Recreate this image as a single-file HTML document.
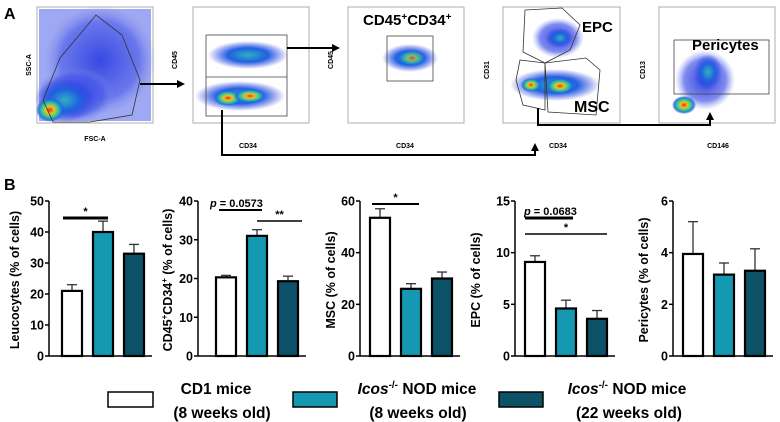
<!DOCTYPE html>
<html><head><meta charset="utf-8">
<style>
html,body{margin:0;padding:0;background:#fff;}
svg{display:block;font-family:"Liberation Sans",Arial,sans-serif;}
</style></head>
<body>
<svg id="fig" width="780" height="422" viewBox="0 0 780 422" xmlns="http://www.w3.org/2000/svg">
<defs>
  <radialGradient id="hot" cx="50%" cy="50%" r="50%">
    <stop offset="0" stop-color="#e0301e"/>
    <stop offset="0.3" stop-color="#f0c020"/>
    <stop offset="0.55" stop-color="#40d080"/>
    <stop offset="0.8" stop-color="#2080e0"/>
    <stop offset="1" stop-color="#3040e0" stop-opacity="0"/>
  </radialGradient>
  <radialGradient id="cool" cx="50%" cy="50%" r="50%">
    <stop offset="0" stop-color="#30b0c0"/>
    <stop offset="0.5" stop-color="#2060e0"/>
    <stop offset="1" stop-color="#3040e0" stop-opacity="0"/>
  </radialGradient>
  <radialGradient id="blue" cx="50%" cy="50%" r="50%">
    <stop offset="0" stop-color="#2a3ee0"/>
    <stop offset="0.7" stop-color="#4a5ae8" stop-opacity="0.7"/>
    <stop offset="1" stop-color="#8090f0" stop-opacity="0"/>
  </radialGradient>
  <marker id="arr" markerWidth="8" markerHeight="8" refX="6" refY="4" orient="auto" markerUnits="userSpaceOnUse">
    <path d="M0,0 L8,4 L0,8 z" fill="#000"/>
  </marker>
</defs>

<text x="4" y="19" font-size="16" font-weight="bold">A</text>

<g>
  <rect x="37" y="7" width="116" height="116" fill="#fff" stroke="#999" stroke-width="0.8"/>
  <rect x="39" y="9" width="112" height="112" fill="#5060e8" opacity="0.55"/>
  <ellipse cx="100" cy="60" rx="56" ry="55" fill="url(#blue)" opacity="0.9"/>
  <ellipse cx="75" cy="95" rx="40" ry="28" fill="url(#blue)"/>
  <ellipse cx="65" cy="100" rx="30" ry="22" fill="url(#cool)"/>
  <ellipse cx="50" cy="110" rx="14" ry="12" fill="url(#hot)"/>
  <polygon points="43,100 60,58 96,15 122,35 140,80 132,115 90,122 53,122" fill="none" stroke="#333" stroke-width="0.8"/>
  <text x="31" y="65" font-size="7" font-weight="bold" transform="rotate(-90 31 65)" text-anchor="middle">SSC-A</text>
  <text x="95" y="141" font-size="7" font-weight="bold" text-anchor="middle">FSC-A</text>
</g>
<line x1="140" y1="84" x2="183" y2="84" stroke="#000" stroke-width="2" marker-end="url(#arr)"/>

<g>
  <rect x="193" y="7" width="116" height="116" fill="#fff" stroke="#999" stroke-width="0.8"/>
  <ellipse cx="248" cy="55" rx="40" ry="14" fill="url(#cool)"/>
  <ellipse cx="240" cy="96" rx="45" ry="15" fill="url(#cool)"/>
  <ellipse cx="228" cy="98" rx="14" ry="8" fill="url(#hot)"/>
  <ellipse cx="250" cy="96" rx="16" ry="7" fill="url(#hot)"/>
  <rect x="206" y="35" width="81" height="81" fill="none" stroke="#444" stroke-width="0.8"/>
  <line x1="206" y1="77" x2="287" y2="77" stroke="#444" stroke-width="0.8"/>
  <text x="177" y="60" font-size="7" font-weight="bold" transform="rotate(-90 177 60)" text-anchor="middle">CD45</text>
  <text x="248" y="148" font-size="7" font-weight="bold" text-anchor="middle">CD34</text>
</g>
<line x1="287" y1="48" x2="338" y2="48" stroke="#000" stroke-width="2" marker-end="url(#arr)"/>

<g>
  <rect x="348" y="7" width="116" height="116" fill="#fff" stroke="#999" stroke-width="0.8"/>
  <ellipse cx="410" cy="58" rx="28" ry="14" fill="url(#cool)"/>
  <ellipse cx="412" cy="58" rx="14" ry="8" fill="url(#hot)" opacity="0.6"/>
  <rect x="387" y="36" width="46" height="45" fill="none" stroke="#444" stroke-width="0.8"/>
  <text x="363" y="25" font-size="15" font-weight="bold">CD45<tspan font-size="10" dy="-5">+</tspan><tspan dy="5">CD34</tspan><tspan font-size="10" dy="-5">+</tspan></text>
  <text x="333" y="60" font-size="7" font-weight="bold" transform="rotate(-90 333 60)" text-anchor="middle">CD45</text>
  <text x="405" y="148" font-size="7" font-weight="bold" text-anchor="middle">CD34</text>
</g>

<g>
  <rect x="503" y="7" width="117" height="116" fill="#fff" stroke="#999" stroke-width="0.8"/>
  <ellipse cx="558" cy="38" rx="26" ry="20" fill="url(#blue)"/>
  <ellipse cx="560" cy="38" rx="14" ry="10" fill="url(#cool)"/>
  <ellipse cx="555" cy="85" rx="45" ry="16" fill="url(#cool)"/>
  <ellipse cx="531" cy="85" rx="10" ry="7" fill="url(#hot)"/>
  <ellipse cx="560" cy="86" rx="14" ry="8" fill="url(#hot)"/>
  <polygon points="525,10 562,8 580,25 570,50 545,63 523,52" fill="none" stroke="#333" stroke-width="0.8"/>
  <polygon points="520,60 545,63 545,110 523,105 516,80" fill="none" stroke="#333" stroke-width="0.8"/>
  <polygon points="545,63 586,58 600,70 596,115 548,112" fill="none" stroke="#333" stroke-width="0.8"/>
  <text x="582" y="32" font-size="15" font-weight="bold">EPC</text>
  <text x="574" y="112" font-size="16" font-weight="bold">MSC</text>
  <text x="489" y="70" font-size="7" font-weight="bold" transform="rotate(-90 489 70)" text-anchor="middle">CD31</text>
  <text x="558" y="148" font-size="7" font-weight="bold" text-anchor="middle">CD34</text>
</g>

<g>
  <rect x="659" y="7" width="116" height="116" fill="#fff" stroke="#999" stroke-width="0.8"/>
  <ellipse cx="705" cy="80" rx="30" ry="30" fill="url(#blue)"/>
  <ellipse cx="708" cy="72" rx="14" ry="18" fill="url(#cool)"/>
  <ellipse cx="684" cy="105" rx="12" ry="9" fill="url(#hot)"/>
  <rect x="674" y="40" width="95" height="54" fill="none" stroke="#444" stroke-width="0.8"/>
  <text x="692" y="50" font-size="15" font-weight="bold">Pericytes</text>
  <text x="645" y="70" font-size="7" font-weight="bold" transform="rotate(-90 645 70)" text-anchor="middle">CD13</text>
  <text x="718" y="148" font-size="7" font-weight="bold" text-anchor="middle">CD146</text>
</g>

<polyline points="222,110 222,155 535,155 535,145" fill="none" stroke="#000" stroke-width="2" marker-end="url(#arr)"/>
<polyline points="538,108 538,125 710,125 710,114" fill="none" stroke="#000" stroke-width="2" marker-end="url(#arr)"/>

<text x="4" y="190" font-size="16" font-weight="bold">B</text>

<g id="charts"></g>

<g font-size="15.5" font-weight="bold">
  <g>
    <rect x="108" y="392" width="45" height="15" fill="#fff" stroke="#000" stroke-width="1.5"/>
    <text x="216" y="394" text-anchor="middle">CD1 mice</text>
    <text x="222" y="418" text-anchor="middle">(8 weeks old)</text>
  </g>
  <g>
    <rect x="293" y="392" width="44" height="15" fill="#1598b2" stroke="#000" stroke-width="1.5"/>
    <text x="417" y="394" text-anchor="middle"><tspan font-style="italic">Icos</tspan><tspan font-size="10" dy="-6">-/-</tspan><tspan dy="6"> NOD mice</tspan></text>
    <text x="418" y="418" text-anchor="middle">(8 weeks old)</text>
  </g>
  <g>
    <rect x="499" y="392" width="44" height="15" fill="#0c5166" stroke="#000" stroke-width="1.5"/>
    <text x="627" y="394" text-anchor="middle"><tspan font-style="italic">Icos</tspan><tspan font-size="10" dy="-6">-/-</tspan><tspan dy="6"> NOD mice</tspan></text>
    <text x="629" y="418" text-anchor="middle">(22 weeks old)</text>
  </g>
</g>
</svg>

<script>
const groups = ["CD1 8wk", "Icos NOD 8wk", "Icos NOD 22wk"];
const leucMeans = [21, 40, 33];
const leucErr = [23, 43.5, 36];
const cd34Means = [20.3, 31, 19.3];
const cd34Err = [20.8, 32.6, 20.6];
const mscMeans = [53.5, 26, 30];
const mscErr = [57, 28, 32.5];
const epcMeans = [9.1, 4.6, 3.6];
const epcErr = [9.7, 5.4, 4.4];
const periMeans = [3.95, 3.15, 3.3];
const periErr = [5.2, 3.6, 4.15];
const leucTicks = [0, 10, 20, 30, 40, 50];
const cd34Ticks = [0, 10, 20, 30, 40];
const mscTicks = [0, 20, 40, 60];
const epcTicks = [0, 5, 10, 15];
const periTicks = [0, 2, 4, 6];

const NS = "http://www.w3.org/2000/svg";
const colors = ["#ffffff", "#1598b2", "#0c5166"];
const root = document.getElementById("charts");
const Y0 = 356, Y1 = 201;

function mk(tag, attrs, parent) {
  const e = document.createElementNS(NS, tag);
  for (const k in attrs) e.setAttribute(k, attrs[k]);
  parent.appendChild(e);
  return e;
}

function drawChart(name, axisX, firstBar, ticks, means, errs, title, titleX, sigs) {
  const g = mk("g", {}, root);
  
  
  const max = ticks[ticks.length - 1];
  const y = v => Y0 - (v / max) * (Y0 - Y1);
  const bw = 20, step = 31;
  const xEnd = firstBar + step * 2 + bw + 8;
  const ax = mk("line", {x1: axisX, y1: Y1, x2: axisX, y2: Y0, stroke: "#000", "stroke-width": 1.5}, g);
  
  
  const xa = mk("line", {x1: axisX, y1: Y0, x2: xEnd, y2: Y0, stroke: "#000", "stroke-width": 1.5}, g);
  
  
  ticks.forEach(t => {
    mk("line", {x1: axisX - 4, y1: y(t), x2: axisX, y2: y(t), stroke: "#000", "stroke-width": 1.5}, g);
    const tl = mk("text", {x: axisX - 5, y: y(t) + 4.5, "font-size": 12.5, "font-weight": "bold", "text-anchor": "end"}, g);
    tl.textContent = t;
    
    
  });
  means.forEach((m, i) => {
    const bx = firstBar + i * step;
    const cx = bx + bw / 2;
    const eb = mk("g", {}, g);
    
    
    mk("line", {x1: cx, y1: y(errs[i]), x2: cx, y2: y(m), stroke: "#333", "stroke-width": 1.3}, eb);
    mk("line", {x1: cx - 5, y1: y(errs[i]), x2: cx + 5, y2: y(errs[i]), stroke: "#333", "stroke-width": 1.3}, eb);
    const r = mk("rect", {x: bx, y: y(m), width: bw, height: Y0 - y(m), fill: colors[i], stroke: "#000", "stroke-width": 2.2}, g);
    
    
  });
  const ty = 280;
  const tt = mk("text", {x: titleX, y: ty, "font-size": 12.5, "font-weight": "bold", "text-anchor": "middle", transform: "rotate(-90 " + titleX + " " + ty + ")"}, g);
  tt.innerHTML = title;
  
  
  sigs.forEach(s => {
    const sl = mk("line", {x1: s[0], y1: s[2], x2: s[1], y2: s[2], stroke: "#000", "stroke-width": s[4] || 2}, g);
    
    
    const st = mk("text", {x: s[5] !== undefined ? s[5] : (s[0] + s[1]) / 2, y: s[2] - 3, "font-size": 11, "font-weight": "bold", "text-anchor": s[5] !== undefined ? "start" : "middle"}, g);
    st.innerHTML = s[3];
    
    
  });
}

drawChart("leucocytes-chart", 49, 62, leucTicks, leucMeans, leucErr, "Leucocytes (% of cells)", 19,
  [[63, 108, 218, "*", 3]]);
drawChart("cd45-cd34-chart", 198, 216, cd34Ticks, cd34Means, cd34Err,
  'CD45<tspan font-size="8" dy="-5">+</tspan><tspan dy="5">CD34</tspan><tspan font-size="8" dy="-5">+</tspan><tspan dy="5"> (% of cells)</tspan>', 172,
  [[219, 262, 210, '<tspan font-style="italic">p</tspan> = 0.0573', 2, 210], [257, 302, 221, "**", 1.5]]);
drawChart("msc-chart", 360, 370, mscTicks, mscMeans, mscErr, "MSC (% of cells)", 335,
  [[372, 419, 204, "*", 2]]);
drawChart("epc-chart", 515, 525, epcTicks, epcMeans, epcErr, "EPC (% of cells)", 480,
  [[525, 573, 218, '<tspan font-style="italic">p</tspan> = 0.0683', 3, 524], [525, 607, 234, "*", 1.5]]);
drawChart("pericytes-chart", 673, 683, periTicks, periMeans, periErr, "Pericytes (% of cells)", 648, []);
</script>
</body></html>
